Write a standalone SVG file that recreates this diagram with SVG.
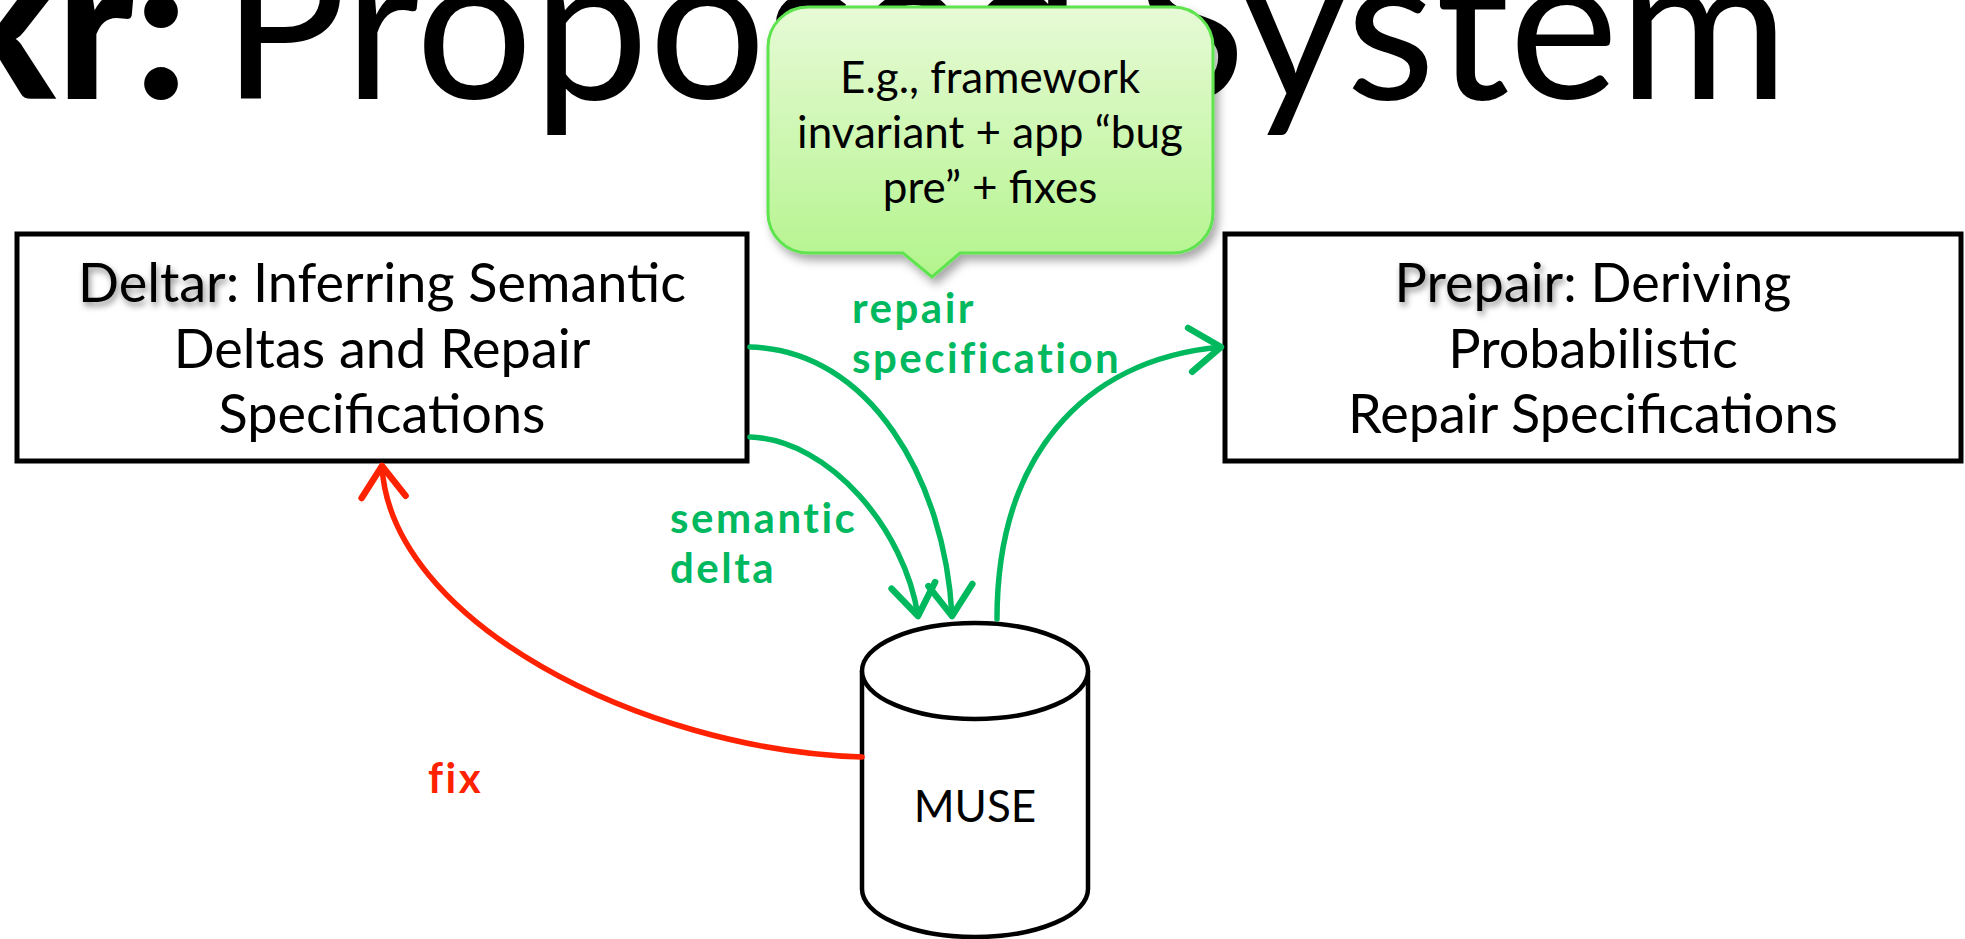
<svg xmlns="http://www.w3.org/2000/svg" width="1965" height="939" viewBox="0 0 1965 939">
  <defs>
    <style>
      .sans { font-family: Lato, "Open Sans", "Liberation Sans", sans-serif; }
      .title { font-size: 207px; fill: #000; }
      .node-box { fill: #fff; stroke: #000; stroke-width: 5; }
      .node-text { font-size: 54px; fill: #000; text-anchor: middle; }
      .small-text { font-size: 44px; fill: #000; text-anchor: middle; }
      .edge-label { font-size: 42px; font-weight: 700; letter-spacing: 2.5px; }
      .green { fill: #00B85E; }
      .red { fill: #FF2200; }
      .wire { fill: none; stroke-width: 5.5; stroke-linecap: round; }
      .wire-green { stroke: #00B85E; marker-end: url(#chevron-green); }
      .wire-red { stroke: #FF2200; marker-end: url(#chevron-red); }
      .db { fill: #fff; stroke: #000; stroke-width: 4.5; }
    </style>
    <marker id="chevron-green" markerUnits="userSpaceOnUse" markerWidth="80" markerHeight="80" refX="0" refY="0" orient="auto" overflow="visible">
      <path d="M-31,-22 L0,0 L-31,22" fill="none" stroke="#00B85E" stroke-width="6.5" stroke-linecap="round" stroke-linejoin="round"/>
    </marker>
    <marker id="chevron-red" markerUnits="userSpaceOnUse" markerWidth="80" markerHeight="80" refX="0" refY="0" orient="auto" overflow="visible">
      <path d="M-31,-22 L0,0 L-31,22" fill="none" stroke="#FF2200" stroke-width="6.5" stroke-linecap="round" stroke-linejoin="round"/>
    </marker>
    <linearGradient id="callout-fill" x1="0" y1="0" x2="0" y2="1">
      <stop offset="0" stop-color="#E7FAD6"/>
      <stop offset="1" stop-color="#B3F48C"/>
    </linearGradient>
    <filter id="callout-shadow" x="-10%" y="-10%" width="125%" height="130%">
      <feDropShadow dx="4" dy="6" stdDeviation="5" flood-color="#000" flood-opacity="0.35"/>
    </filter>
    <filter id="word-shadow" x="-10%" y="-30%" width="130%" height="170%">
      <feGaussianBlur in="SourceAlpha" stdDeviation="3"/>
      <feOffset dx="2" dy="4" result="s"/>
      <feFlood flood-color="#000" flood-opacity="0.45"/>
      <feComposite in2="s" operator="in"/>
    </filter>
  </defs>

  <rect width="1965" height="939" fill="#fff"/>

  <!-- slide heading, running off the left edge -->
  <g id="heading" class="sans title">
    <text x="188" y="99" text-anchor="end" font-weight="900">kr:</text>
    <text x="222" y="99">Proposed System</text>
  </g>

  <!-- Deltar -->
  <g id="deltar">
    <rect class="node-box" x="17" y="234" width="730" height="227"/>
    <text class="sans node-text" x="382" y="302" filter="url(#word-shadow)"><tspan>Deltar</tspan><tspan fill-opacity="0">: Inferring Semantic</tspan></text>
    <text class="sans node-text" x="382" y="302">Deltar: Inferring Semantic</text>
    <text class="sans node-text" x="382" y="368">Deltas and Repair</text>
    <text class="sans node-text" x="382" y="433">Specifications</text>
  </g>

  <!-- Prepair -->
  <g id="prepair">
    <rect class="node-box" x="1225" y="234" width="736" height="227"/>
    <text class="sans node-text" x="1593" y="302" filter="url(#word-shadow)"><tspan>Prepair</tspan><tspan fill-opacity="0">: Deriving</tspan></text>
    <text class="sans node-text" x="1593" y="302">Prepair: Deriving</text>
    <text class="sans node-text" x="1593" y="368">Probabilistic</text>
    <text class="sans node-text" x="1593" y="433">Repair Specifications</text>
  </g>

  <!-- MUSE store -->
  <g id="muse">
    <path class="db" d="M862,671 V889 A113,48 0 0 0 1088,889 V671"/>
    <ellipse class="db" cx="975" cy="671" rx="113" ry="48"/>
    <text class="sans small-text" x="975" y="822">MUSE</text>
  </g>

  <!-- connectors -->
  <g id="connectors">
    <path class="wire wire-green" d="M750,347 C870,350 945,480 952,616"/>
    <path class="wire wire-green" d="M750,437 C830,440 905,530 918,616"/>
    <path class="wire wire-green" d="M997,619 C997,460 1080,360 1221,347"/>
    <path class="wire wire-red" d="M862,757 C640,750 390,620 382,466"/>
    <g class="sans edge-label">
      <text class="green" x="852" y="323">repair</text>
      <text class="green" x="852" y="373">specification</text>
      <text class="green" x="670" y="533">semantic</text>
      <text class="green" x="670" y="583">delta</text>
      <text class="red" x="428" y="793">fix</text>
    </g>
  </g>

  <!-- callout bubble -->
  <g id="callout">
    <path d="M808,7 H1173 A40,40 0 0 1 1213,47 V213 A40,40 0 0 1 1173,253 H960 L932,277 L903,253 H808 A40,40 0 0 1 768,213 V47 A40,40 0 0 1 808,7 Z" fill="url(#callout-fill)" stroke="#5FE34F" stroke-width="3" filter="url(#callout-shadow)"/>
    <text class="sans small-text" x="990" y="93">E.g., framework</text>
    <text class="sans small-text" x="990" y="148">invariant + app “bug</text>
    <text class="sans small-text" x="990" y="203">pre” + fixes</text>
  </g>
</svg>
